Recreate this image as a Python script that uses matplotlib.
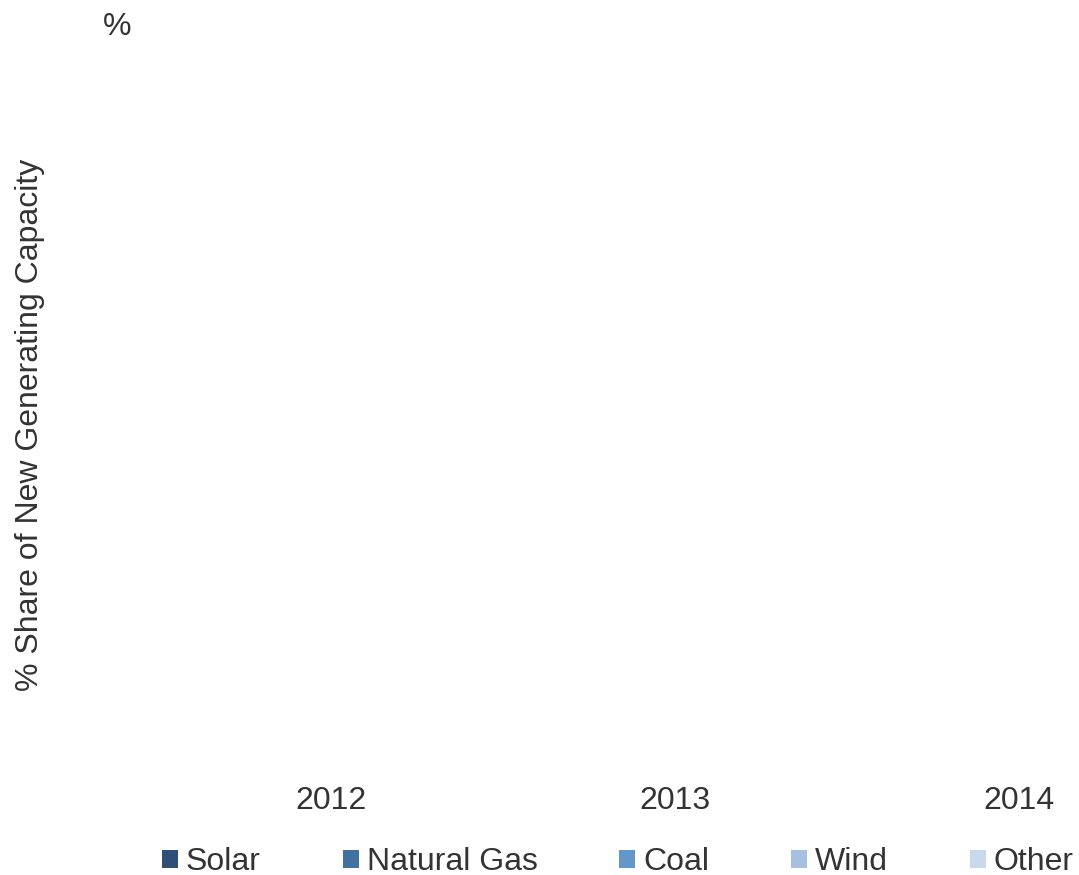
import matplotlib
matplotlib.use("Agg")
import matplotlib.pyplot as plt
from matplotlib.patches import Patch
import numpy as np

plt.rcParams['font.family'] = ['Liberation Sans', 'DejaVu Sans']

# Data as shown in the reference: no bars are drawn, so every share is 0
years = ['2012', '2013', '2014']
sources = ['Solar', 'Natural Gas', 'Coal', 'Wind', 'Other']
solar = [0, 0, 0]
natural_gas = [0, 0, 0]
coal = [0, 0, 0]
wind = [0, 0, 0]
other = [0, 0, 0]
colors = ['#2e5077', '#41729f', '#6497c9', '#a7c0e1', '#c9d9ec']

text_color = '#333333'
fs = 23

fig = plt.figure(figsize=(10.79, 8.75), dpi=100)
ax = fig.add_axes([159 / 1079, 95 / 875, 920 / 1079, 730 / 875])

x = np.arange(len(years))
bottom = np.zeros(len(years))
for name, vals, c in zip(sources, [solar, natural_gas, coal, wind, other], colors):
    ax.bar(x, vals, 0.5, bottom=bottom, color=c, label=name)
    bottom += np.array(vals)

ax.set_xlim(-0.5, (1079 - 331) / 344)
ax.set_ylim(0, 100)
ax.set_xticks(x)
ax.set_xticklabels(years, fontsize=fs, color=text_color)
ax.tick_params(axis='x', length=0, pad=4)
ax.set_yticks([])
for s in ax.spines.values():
    s.set_visible(False)

fig.text(30 / 1079, 1 - 425 / 875, '% Share of New Generating Capacity',
         rotation=90, ha='center', va='center', fontsize=fs, color=text_color)
fig.text(117 / 1079, 1 - 27 / 875, '%', ha='center', va='center',
         fontsize=fs, color=text_color)

handles = [Patch(facecolor=c, edgecolor='none') for c in colors]
fig.legend(handles, sources, loc='center left', bbox_to_anchor=(162 / 1079, 1 - 862 / 875),
           ncol=5, frameon=False, fontsize=fs, labelcolor=text_color,
           handlelength=0.5, handleheight=0.5, handletextpad=0.25,
           columnspacing=2.56, borderaxespad=0, borderpad=0)

plt.savefig('out.png', dpi=100, facecolor='white')
